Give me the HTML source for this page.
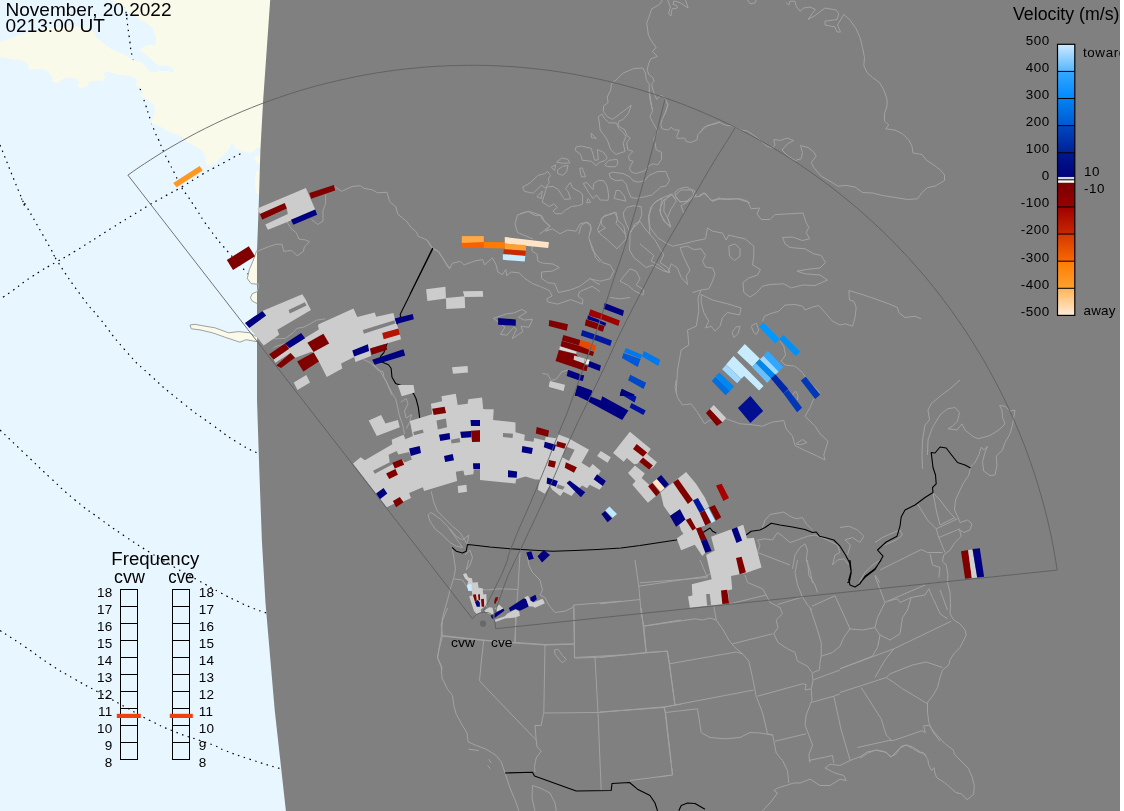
<!DOCTYPE html>
<html><head><meta charset="utf-8"><title>Velocity map</title>
<style>
html,body{margin:0;padding:0;background:#fff;overflow:hidden}
svg{display:block}
text{font-family:"Liberation Sans",sans-serif;fill:#000}
</style></head><body>
<svg width="1124" height="811" viewBox="0 0 1124 811">
<rect x="0" y="0" width="1120" height="811" fill="#e8f6ff"/>
<path d="M124.5,0.0 C125.1,4.6 124.6,1.2 126.2,13.7 C127.8,26.2 127.2,22.9 129.3,37.4 C131.4,51.9 128.9,40.5 132.4,57.3 C135.9,74.1 136.2,73.9 139.9,87.8 C143.6,101.7 141.7,93.3 143.6,99.0 C145.5,104.7 143.3,97.9 145.6,104.9 C147.9,111.9 147.2,110.5 150.5,119.9 C153.8,129.3 152.7,126.5 155.4,133.1 C158.1,139.7 155.9,133.6 158.6,139.8 C161.3,146.0 160.3,144.3 163.6,151.6 C166.9,158.9 164.9,154.3 168.6,161.6 C172.3,168.9 170.4,165.0 174.7,173.6 C179.0,182.2 176.9,179.4 181.5,187.3 C186.1,195.2 183.6,190.1 188.4,197.2 C193.2,204.3 188.8,197.9 195.9,208.5 C203.0,219.1 198.7,214.3 209.6,229.0 C220.5,243.7 216.4,238.2 228.6,252.5 C240.8,266.8 235.0,260.0 246.1,271.8 C257.2,283.6 256.7,282.6 262.0,288.0" fill="none" stroke="#000" stroke-width="1.2" stroke-dasharray="1.5 4.5"/>
<path d="M262.0,143.0 C254.9,146.5 253.3,147.1 240.8,153.5 C228.3,159.9 233.7,157.3 224.6,162.2 C215.5,167.1 220.9,164.1 213.4,168.2 C205.9,172.3 212.6,168.2 202.2,174.4 C191.8,180.6 192.6,180.5 182.2,186.7 C171.8,192.9 178.4,188.8 170.9,192.9 C163.4,197.0 166.7,195.2 159.7,199.1 C152.7,203.0 156.8,200.5 149.8,204.7 C142.8,208.9 146.1,207.0 138.6,211.6 C131.1,216.2 136.5,212.8 127.4,218.4 C118.3,224.0 128.7,217.4 111.2,228.4 C93.7,239.4 92.9,240.3 75.0,251.3 C57.1,262.3 71.7,253.0 57.5,261.3 C43.3,269.6 48.3,265.9 32.5,276.3 C16.7,286.7 20.8,285.0 10.0,292.5 C-0.8,300.0 3.3,296.7 0.0,298.8" fill="none" stroke="#000" stroke-width="1.2" stroke-dasharray="1.5 4.5"/>
<path d="M0.0,145.0 C7.3,163.0 13.7,179.4 22.0,199.0 C30.3,218.6 15.7,187.6 25.0,203.8 C34.3,220.0 39.2,228.3 50.0,247.5 C60.8,266.7 46.7,244.6 57.5,261.3 C68.3,278.0 68.3,278.3 82.5,297.5 C96.7,316.7 85.8,301.3 100.0,318.8 C114.2,336.3 108.3,331.3 125.0,350.0 C141.7,368.7 130.8,357.4 150.0,375.0 C169.2,392.6 161.7,386.1 182.5,402.8 C203.3,419.5 194.2,411.8 212.5,425.0 C230.8,438.2 222.1,432.9 237.5,442.5 C252.9,452.1 248.0,448.3 258.8,453.8 C269.6,459.3 266.3,457.3 270.0,459.0" fill="none" stroke="#000" stroke-width="1.2" stroke-dasharray="1.5 4.5"/>
<path d="M0.0,430.0 C8.3,437.9 8.3,438.0 25.0,453.8 C41.7,469.6 33.3,462.1 50.0,477.5 C66.7,492.9 58.3,486.2 75.0,500.0 C91.7,513.8 83.3,506.7 100.0,518.8 C116.7,530.9 108.3,525.1 125.0,536.3 C141.7,547.5 133.3,542.1 150.0,552.5 C166.7,562.9 159.2,558.3 175.0,567.5 C190.8,576.7 182.5,571.7 197.5,580.0 C212.5,588.3 206.7,585.4 220.0,592.5 C233.3,599.6 226.7,596.1 237.5,601.3 C248.3,606.5 242.9,604.1 252.5,608.0 C262.1,611.9 258.8,610.3 266.3,613.0 C273.8,615.7 272.1,615.0 275.0,616.0" fill="none" stroke="#000" stroke-width="1.2" stroke-dasharray="1.5 4.5"/>
<path d="M0.0,630.5 C8.3,635.9 8.3,635.5 25.0,646.8 C41.7,658.1 33.3,653.5 50.0,664.3 C66.7,675.1 58.3,669.7 75.0,679.3 C91.7,688.9 83.3,683.8 100.0,693.0 C116.7,702.2 108.3,697.6 125.0,706.8 C141.7,716.0 133.3,712.2 150.0,720.5 C166.7,728.8 158.3,725.1 175.0,731.8 C191.7,738.5 186.9,735.9 200.0,740.5 C213.1,745.1 206.0,742.2 214.3,745.5 C222.6,748.8 213.1,745.9 225.0,750.5 C236.9,755.1 231.8,753.3 250.0,759.3 C268.2,765.3 266.4,764.6 279.7,768.5 C293.0,772.4 286.6,770.2 290.0,771.0" fill="none" stroke="#000" stroke-width="1.2" stroke-dasharray="1.5 4.5"/>
<polygon points="0.0,41.7 12.5,37.4 24.9,33.0 37.4,30.5 49.8,28.0 62.3,26.2 74.7,25.5 87.2,28.6 94.6,33.0 95.9,37.4 103.4,43.6 112.5,49.8 124.9,54.8 132.4,59.8 141.1,62.3 147.3,68.5 149.8,72.2 154.8,72.2 159.8,71.0 168.5,71.0 174.7,72.9 172.2,67.2 167.2,65.4 158.5,65.4 154.8,62.3 148.6,57.3 142.3,52.3 139.9,49.8 143.6,46.7 149.8,44.8 155.4,45.5 156.0,37.4 152.3,27.4 147.3,23.7 141.1,19.9 134.9,16.2 128.6,12.5 124.9,7.5 110.8,0.0 290.0,0.0 290.0,200.0 259.5,163.4 255.8,162.2 254.5,157.2 259.5,154.7 260.1,147.9 257.0,147.9 254.5,151.0 249.6,152.9 242.1,151.6 235.9,148.5 231.5,142.3 229.6,148.5 222.2,156.0 215.9,162.2 209.7,165.9 206.0,164.7 205.3,156.0 202.2,151.0 194.8,146.0 187.3,142.3 184.8,138.5 177.3,134.8 167.4,131.1 158.6,125.5 150.5,123.6 152.4,118.6 154.9,112.4 154.3,106.2 148.7,99.9 138.7,95.6 143.7,91.2 136.2,85.6 136.7,79.7 130.8,76.0 118.3,74.7 107.1,71.6 103.4,74.1 105.2,77.2 102.1,81.6 98.4,80.3 89.7,81.6 87.2,85.9 80.9,88.4 77.2,85.9 79.1,82.8 77.8,79.7 71.0,77.2 63.5,78.5 57.3,83.4 52.3,80.9 52.3,77.8 48.6,72.2 41.1,68.5 29.3,69.7 28.0,64.1 22.4,60.4 12.5,59.2 0.0,56.7" fill="#fafaeb"/>
<polygon points="262.0,171.0 256.0,171.5 254.8,181.0 256.0,193.6 262.0,194.0" fill="#fafaeb"/>
<polygon points="262.0,245.0 256.5,251.2 252.9,261.2 249.2,269.9 247.3,278.6 251.1,283.6 257.0,284.2 262.0,284.0" fill="#fafaeb" stroke="#a0a0a0" stroke-width="1"/>
<polygon points="262.0,291.0 257.0,291.7 252.3,293.6 250.4,297.9 252.3,301.1 257.0,303.5 262.0,304.0" fill="#fafaeb" stroke="#a0a0a0" stroke-width="1"/>
<polygon points="262.0,337.0 254.8,335.9 249.8,332.8 238.6,331.6 228.6,332.8 214.9,327.8 200.0,325.3 195.0,324.3 190.0,325.0 191.3,328.8 200.0,329.9 212.5,332.8 224.9,337.2 239.9,342.2 246.1,339.7 256.0,341.5 262.0,342.0" fill="#fafaeb" stroke="#a0a0a0" stroke-width="1"/>
<polygon points="270.2,0.0 263.1,101.0 260.4,150.0 258.8,203.0 257.0,251.0 257.0,351.0 257.0,400.0 258.3,440.0 259.3,470.0 261.9,541.0 265.5,603.0 274.7,710.0 285.9,811.0 1120.0,811.0 1120.0,0.0" fill="#808080"/>
<clipPath id="nightclip"><polygon points="270.2,0.0 263.1,101.0 260.4,150.0 258.8,203.0 257.0,251.0 257.0,351.0 257.0,400.0 258.3,440.0 259.3,470.0 261.9,541.0 265.5,603.0 274.7,710.0 285.9,811.0 1120.0,811.0 1120.0,0.0"/></clipPath>
<g clip-path="url(#nightclip)">
<path d="M334.5,186.5 L341.6,191.3 L352.3,186.5 L360.3,185.6 L363.9,188.3 L372.8,190.0 L377.2,192.7 L387.0,192.3 L389.7,201.6 L395.9,206.9 L397.7,214.1 L406.6,221.2 L411.0,227.4 L416.4,231.9 L418.1,236.3 L427.0,239.9 L432.4,247.9 L438.6,251.4 L443.1,258.5 L447.5,266.5 L450.0,269.2 M325.6,194.5 L325.6,203.4 L323.0,210.5 L323.0,221.2 L317.6,224.4 L311.4,219.4 M286.5,221.2 L290.9,228.3 L296.3,232.7 L298.9,239.0 L305.2,239.9 L309.6,241.6 L304.3,247.0 L303.4,251.4 L297.2,255.9 L291.8,250.5 L283.8,251.4 L282.0,244.3 L275.8,244.3 L267.8,247.0 L257.1,251.4 L255.3,256.8 L250.0,269.2 M250.0,281.7 L258.9,284.3 L257.1,292.3 M426.7,240.0 L432.9,248.9 L438.3,251.6 L443.6,259.6 L449.8,268.5 L452.5,263.1 L460.5,261.4 L464.1,264.9 L474.7,261.0 L482.7,259.6 L484.5,264.9 L492.5,257.8 L496.1,264.9 L497.9,272.0 L502.3,274.7 L505.9,269.4 L506.8,275.6 L511.2,272.0 L519.2,272.9 L524.6,278.3 L532.6,283.6 L540.6,286.6 L549.5,290.7 L552.1,296.0 L546.8,298.7 L547.7,301.9 L557.5,304.1 L570.8,299.6 L582.4,304.1 L582.9,299.6 L577.9,296.0 L579.7,291.6 L592.2,286.3 L600.0,291.6 M532.6,245.3 L531.7,250.7 L537.0,254.2 L537.9,261.4 L542.3,263.1 L553.0,264.0 L559.3,267.6 L552.1,271.1 L541.5,272.0 L541.5,278.3 L547.7,282.7 L554.8,283.6 L558.4,292.5 L570.8,289.8 L579.7,286.3 L590.4,278.3 L595.7,282.7 L600.0,284.5 M589.5,240.0 L593.1,248.9 L595.7,257.8 L600.0,262.2 M493.4,318.3 L506.8,313.8 L513.9,313.0 L521.9,309.4 L526.7,312.1 L518.3,317.4 L524.6,320.1 L532.6,319.2 L529.0,327.2 L521.0,326.3 L522.8,331.6 L512.1,338.8 L516.5,329.0 L513.9,327.2 L506.8,335.2 L500.5,334.3 L505.0,327.2 Z M542.3,373.5 L547.7,374.3 L551.2,380.6 L556.6,378.8 L561.9,371.7 L569.0,369.9 M610.7,90.0 L607.2,97.1 L608.1,102.5 L603.6,106.0 L603.3,111.4 L607.2,116.7 L612.5,119.4 L619.6,114.0 L626.8,108.7 L631.2,105.1 L628.5,113.1 L623.2,119.4 L618.8,121.1 L617.9,125.6 L625.0,130.0 L626.8,135.4 L630.3,138.0 L626.8,142.5 L627.7,149.6 L633.0,151.4 L628.5,155.8 L629.4,160.3 L633.0,161.2 L629.4,168.3 L631.2,171.9 L635.7,173.6 L644.6,171.0 L648.1,166.5 L652.6,163.8 L657.9,164.7 L661.5,159.4 L661.5,152.3 L656.1,149.6 L655.2,143.4 L653.5,139.8 L657.9,130.9 L653.5,123.8 L649.9,116.7 L652.6,110.5 L649.9,98.9 L649.0,90.0 M598.3,116.7 L601.9,114.0 L604.5,118.5 L609.0,122.9 L616.1,122.9 L618.8,128.3 L623.2,132.7 L625.9,136.3 L623.2,143.4 L625.0,151.4 L616.1,154.4 L610.7,149.6 L607.2,139.8 L603.6,134.5 L600.1,130.0 L599.2,122.0 Z M591.2,133.1 L596.2,138.4 L591.5,137.7 Z M576.0,146.9 L581.4,146.0 L591.2,148.4 L593.0,154.1 L594.7,160.3 L598.3,159.8 L597.4,149.6 L603.6,152.3 L607.2,157.6 L605.4,160.3 L598.3,163.0 L596.2,165.6 L591.2,161.2 L582.3,160.3 L580.5,154.1 L575.2,150.5 Z M604.5,164.7 L609.0,160.3 L617.0,159.4 L617.9,163.8 L615.2,166.9 L607.2,166.5 Z M556.5,162.1 L561.8,158.0 L568.0,159.4 L569.8,163.0 L562.7,163.3 Z M551.1,167.4 L555.6,164.7 L554.7,170.4 Z M557.4,170.1 L562.7,166.2 L568.0,165.6 L566.6,171.9 L562.7,175.4 L557.7,173.6 Z M579.6,168.3 L582.3,167.9 L585.5,176.8 L581.4,176.8 Z M522.7,187.0 L530.7,182.5 L537.8,175.4 L544.9,173.6 L547.6,171.5 L550.6,175.4 L548.1,179.0 L549.4,182.5 L544.9,187.9 L541.4,185.2 L533.3,193.2 L524.4,191.4 Z M536.9,196.8 L542.2,191.1 L541.4,198.5 Z M542.2,202.1 L546.7,187.0 L552.9,186.4 L558.3,189.6 L562.7,196.8 L564.5,199.4 L570.7,198.9 L568.0,191.4 L565.4,188.8 L570.4,182.5 L572.5,187.9 L580.5,192.3 L582.6,195.0 L582.6,203.9 L578.7,205.7 L571.6,206.5 L565.4,210.1 L561.8,213.7 L555.6,213.7 L552.9,211.0 L557.4,207.4 L553.8,203.9 L549.4,206.5 Z M583.2,183.4 L586.7,182.5 L593.0,189.6 L593.8,183.4 L598.3,180.4 L603.6,180.7 L607.2,186.1 L608.6,195.0 L608.1,200.3 L600.1,200.0 L596.5,195.0 L593.0,198.5 L588.5,192.3 Z M609.0,173.6 L612.5,172.2 L623.2,173.6 L630.3,177.2 L633.0,180.7 L638.3,182.2 L644.6,180.7 L649.0,175.4 L657.9,171.5 L665.9,171.5 L669.5,180.7 L665.9,186.1 L660.6,187.0 L657.0,190.5 L651.7,195.0 L644.6,196.8 L637.4,198.2 L631.2,197.7 L627.7,189.6 L626.4,184.3 L622.3,179.9 L616.1,180.7 L610.7,178.1 Z M614.3,198.5 L616.1,190.5 L619.6,190.5 L624.1,195.9 L625.9,201.2 Z M586.7,203.0 L588.0,198.5 L590.8,202.1 Z M665.9,100.7 L667.7,105.1 L665.0,113.1 L662.3,119.4 L660.6,124.7 L662.3,128.8 L667.7,130.0 L671.2,127.4 L674.8,130.0 L679.3,130.0 L676.6,136.3 L677.5,138.4 L684.6,138.0 L686.4,141.6 L690.8,142.5 L697.0,139.8 L697.9,134.5 L703.3,129.1 L706.8,125.6 L715.7,123.8 L720.0,122.0 M674.8,192.3 L679.3,188.8 L686.4,187.0 L691.7,189.6 L694.0,195.0 L690.8,197.7 L686.4,201.2 L680.1,201.7 L675.7,197.7 Z M649.9,234.0 L648.5,218.1 L650.8,207.4 L656.1,201.2 L662.3,198.5 L660.6,205.7 L660.6,214.6 L665.9,222.6 L670.9,227.0 L667.7,218.1 L663.8,211.0 L664.5,201.2 L668.6,195.9 L671.2,194.1 L674.8,198.5 M683.7,212.8 L681.0,205.7 L687.3,202.1 L693.5,196.8 L699.7,196.4 L704.2,193.2 L708.6,197.7 L712.2,201.2 L720.0,197.7 M623.2,212.8 L626.8,207.4 L633.9,205.7 L641.0,206.5 L641.9,214.6 L638.3,223.5 L633.9,227.0 L630.3,232.3 L626.8,225.2 L624.1,218.1 Z M598.3,232.3 L605.4,227.9 L601.9,225.2 L601.0,219.9 L604.5,215.4 L610.7,214.6 L614.3,211.9 L617.5,218.1 L616.1,223.5 L619.6,227.0 L625.0,234.0 M520.0,213.7 L528.0,211.4 L535.1,215.4 L541.4,215.4 L544.9,221.7 L550.2,226.1 L539.6,234.0 M578.7,234.0 L581.4,225.2 L585.8,222.6 L590.3,224.3 L591.2,229.7 L589.4,234.0 M610.7,89.9 L611.6,83.6 L617.0,79.2 L623.2,73.0 L633.9,68.5 L642.8,68.0 L645.4,73.0 L646.3,80.1 L649.0,83.6 L649.9,95.2 L651.7,106.8 L652.6,110.3 M662.3,0.0 L659.7,4.4 L651.7,8.9 L649.0,16.9 L646.7,23.1 L648.5,35.6 L652.6,42.7 L656.1,47.2 L652.6,51.6 L657.4,56.6 L650.8,58.7 L648.5,64.1 L647.2,70.3 L649.0,74.7 L652.6,77.4 L654.3,81.0 L651.7,83.6 L652.6,89.0 L655.2,96.1 L656.7,99.3 L660.6,95.2 L665.0,97.9 L668.0,105.0 L665.0,113.9 M667.7,0.0 L670.4,7.1 L668.6,13.3 L670.9,16.0 L672.1,8.9 L677.5,8.0 L676.6,5.3 L673.0,4.4 L673.9,0.9 L680.1,2.7 L688.1,8.0 L685.5,0.0 M747.5,0.0 L750.0,3.8 L755.0,3.0 L756.2,0.0 M786.2,2.5 L788.8,5.0 L790.0,1.2 L795.0,1.2 L796.2,6.2 L800.0,11.2 L803.8,8.0 L810.0,7.0 L815.5,9.5 L812.0,13.8 L808.0,19.5 L815.0,15.5 L825.0,8.0 L836.2,10.0 L838.8,13.8 L837.0,19.5 L825.0,21.2 L825.0,25.0 L835.0,27.0 L837.0,32.0 L840.5,32.0 L837.5,25.0 L843.8,14.5 L850.0,20.0 L856.2,28.8 L860.0,37.5 L862.5,47.5 L864.5,57.5 L863.8,65.5 L867.0,72.5 L872.5,77.5 L879.5,82.5 L883.8,90.0 L887.0,98.8 L887.0,106.2 L884.5,113.8 L884.5,121.2 L888.8,125.0 L885.5,128.8 L895.0,130.0 L902.5,133.8 L908.8,140.0 L912.0,146.2 L913.0,153.0 L922.0,154.5 L926.2,160.0 L933.8,165.0 L940.5,170.0 L944.5,175.0 L944.5,180.5 L935.0,186.2 L927.5,187.5 L922.0,192.5 L917.5,198.8 L907.5,199.5 L895.0,197.5 L882.5,195.5 L872.5,193.0 L862.5,192.5 L855.0,187.0 L846.2,185.5 L838.0,186.2 L830.0,181.2 L821.2,176.2 L813.8,167.5 L811.2,162.5 L816.2,156.2 L813.8,152.0 L808.0,147.5 L800.5,145.5 L802.5,152.5 L801.2,158.8 L795.0,160.5 L787.5,155.5 L782.0,150.0 L787.5,143.8 L793.8,140.5 L787.0,138.0 L780.5,140.5 L773.8,139.5 L775.0,145.0 L772.5,148.0 L767.0,146.2 L756.2,137.0 L747.5,131.2 L741.2,130.0 L732.5,126.2 L725.0,125.0 L718.8,122.0 L710.0,125.0 L703.8,127.5 L700.0,132.5 M700.0,195.0 L705.0,193.0 L711.2,200.5 L718.8,198.8 L727.5,199.5 L737.5,198.8 L750.0,202.8 M698.8,196.2 L703.8,193.0 L712.5,201.2 L720.0,198.8 L740.0,198.8 L747.5,201.2 L751.2,208.8 L759.5,208.0 L757.0,213.8 L761.2,219.5 L770.0,219.5 L775.0,214.5 L790.0,213.8 L803.0,213.0 L806.2,222.5 L808.8,227.5 L806.2,232.5 L809.5,238.8 L802.5,240.5 L792.5,237.0 L782.5,237.5 L785.0,243.8 L790.0,247.5 L805.0,248.8 L813.8,253.8 L821.2,255.5 L825.5,262.5 L820.0,268.0 L806.2,269.5 L797.0,271.2 L805.0,273.8 L820.0,275.0 L827.5,280.0 L815.0,285.5 L802.5,285.0 L791.2,288.0 L783.8,283.8 L770.0,284.5 L762.5,286.2 L756.2,293.0 L750.0,297.0 L743.8,292.5 L743.0,282.5 L748.8,278.0 L757.5,275.0 L760.5,269.5 L752.5,265.0 L753.8,256.2 L753.8,246.2 L745.0,238.8 L736.2,237.0 L728.8,235.0 L726.2,240.0 L722.5,233.0 L712.5,231.2 L707.5,228.0 L705.5,238.8 L693.8,241.2 L683.8,243.8 L672.5,246.2 L665.0,242.5 L657.5,237.5 L650.0,227.5 L648.8,215.0 L652.5,205.0 L660.0,198.8 L672.5,193.8 M728.8,246.2 L735.0,243.8 L740.0,248.8 L740.0,256.2 L734.5,260.5 L729.5,256.2 Z M701.2,290.0 L708.8,288.8 L712.5,281.2 L715.0,273.8 L712.5,268.0 L705.5,267.0 L702.5,261.2 L705.5,255.5 L701.2,248.8 L693.8,249.5 L687.5,246.2 L680.0,247.5 L683.8,257.5 L690.0,270.0 L686.2,276.2 L687.5,284.5 L681.2,277.5 L677.5,268.0 L671.2,263.8 L668.0,272.5 L658.8,265.0 L651.2,261.2 L653.8,255.5 L640.0,243.8 M692.5,292.5 L701.2,290.0 L698.0,297.5 L698.8,311.2 L696.2,326.2 L687.5,330.0 L688.8,345.0 L681.2,350.0 L677.5,370.0 L676.2,392.8 M701.2,294.5 L712.5,300.0 L727.5,303.8 L741.2,308.0 L739.5,315.0 L727.5,312.5 L722.5,317.5 L720.0,326.2 L715.0,331.2 L711.2,326.2 L705.5,328.0 L708.8,321.2 L703.8,312.5 L701.2,302.5 Z M732.0,332.0 L736.2,327.0 L740.0,326.2 L738.0,333.8 L733.8,337.5 Z M751.2,326.2 L756.2,323.0 L758.8,330.0 L756.2,334.5 L753.8,332.5 Z M762.5,321.2 L764.5,316.2 L770.0,313.8 L778.8,311.2 L785.0,305.0 L795.0,304.5 L802.5,306.2 L805.0,310.0 L812.5,307.0 L818.8,305.5 L825.0,312.5 L832.5,321.2 L840.0,325.0 L845.0,323.8 L852.5,326.2 L855.0,317.5 L856.2,307.5 L853.8,301.2 L849.5,300.0 L848.8,290.5 L860.0,293.8 L875.0,298.8 L888.8,303.8 L897.5,307.5 L898.8,312.5 L905.0,317.5 L915.0,316.2 L921.0,318.8 M780.0,341.2 L783.8,346.2 L785.5,355.0 L781.2,361.2 L785.0,365.0 L795.0,366.2 L802.5,372.5 L807.5,380.0 L820.0,392.8 M663.8,200.0 L672.5,194.5 L676.2,201.2 L671.2,208.8 L667.5,217.5 L670.5,227.0 L663.8,221.2 L659.5,210.0 Z M675.0,195.0 L681.2,190.0 L693.8,190.0 L696.2,195.0 L688.8,201.2 L680.0,202.0 Z M676.2,380.0 L675.0,387.5 L677.5,397.5 L682.5,405.0 L691.2,403.8 L697.5,412.5 L704.5,423.8 L710.0,420.0 L726.2,418.8 L740.0,423.8 L750.0,424.5 L762.5,426.2 L772.5,422.0 L783.8,420.5 L786.2,428.8 L792.5,436.2 L795.0,445.5 L803.8,450.0 L815.0,455.0 L825.0,460.0 L823.8,455.0 L828.0,441.2 L820.0,433.8 L815.0,426.2 L805.0,416.2 L810.0,407.5 L813.8,398.8 M796.2,443.8 L802.5,439.5 L807.0,442.5 L800.0,445.0 Z M792.5,395.0 L795.5,391.2 L798.0,395.0 L797.5,400.0 M762.5,527.5 L765.0,520.0 L770.0,514.5 L783.8,512.0 L790.0,516.2 L796.2,518.8 L802.5,517.5 L806.2,523.8 L812.5,530.0 M757.5,552.5 L760.0,545.0 L757.5,540.0 L765.0,538.8 L772.5,540.0 L777.5,532.5 L782.5,536.2 L790.0,542.5 L797.5,540.0 L807.5,536.2 L815.0,535.0 L825.0,538.8 L837.5,545.0 L840.0,552.5 L835.0,555.0 L832.5,565.0 L837.5,560.0 L843.8,558.8 L848.8,565.0 M792.5,568.8 L795.0,555.0 L800.0,547.5 L805.0,543.8 L807.5,550.0 L806.2,560.0 L810.0,570.0 L812.5,582.8 M757.5,552.5 L790.0,565.0 M640.0,582.8 L707.5,577.5 L700.0,560.0 M960.0,380.0 L950.0,388.8 L940.0,396.2 L931.2,403.8 L928.0,410.0 L929.5,420.0 L925.0,425.0 L922.5,440.0 L922.0,455.0 L922.5,468.8 M927.5,455.0 L928.0,440.0 L932.5,427.5 L940.0,415.0 L947.5,408.8 L955.0,407.5 L959.5,412.5 L957.5,421.2 L952.5,426.2 L948.0,428.8 L957.0,430.0 L962.0,423.8 L965.0,430.0 L972.5,436.2 L978.0,438.8 L990.0,435.5 L998.8,430.0 L1005.0,423.8 L1002.5,417.5 L1002.0,410.0 L999.5,405.5 L1005.0,406.2 L1010.0,411.2 L1015.0,410.0 L1012.5,425.0 L1010.0,433.8 L1005.0,442.5 L1002.5,450.0 L996.2,456.2 L997.0,465.0 L995.0,475.0 L990.0,475.5 L983.8,471.2 L982.5,462.5 L984.5,453.8 L987.5,446.2 L983.8,450.0 L981.2,447.0 L978.8,455.0 L975.0,462.5 L970.0,467.5 M970.5,468.0 L968.8,475.0 L963.8,482.5 L960.0,490.0 L955.5,500.0 L954.5,510.0 L957.5,516.2 L960.0,522.5 L967.5,520.0 L972.0,523.8 L970.0,530.0 L963.8,532.5 L959.5,530.0 L961.2,536.2 L955.0,542.5 L950.0,550.0 L943.8,555.0 L942.5,561.2 L946.2,565.0 L948.0,575.0 L947.5,582.8 M933.0,492.5 L940.0,500.0 L947.5,510.0 L955.5,518.8 M933.0,492.5 L936.2,510.0 L940.0,525.0 L955.0,517.5 M917.5,503.8 L927.5,520.0 L936.2,528.8 L957.5,518.8 M936.2,528.8 L938.8,537.5 L960.0,528.8 M938.8,537.5 L945.0,552.5 M880.0,570.0 L921.2,549.5 L927.5,552.5 L942.5,552.5 M930.0,553.8 L932.5,565.0 L940.0,567.5 L938.8,577.5 M875.0,575.0 L880.0,582.8 M875.0,542.5 L882.5,537.5 L893.8,532.5 L900.0,530.0 L902.5,535.0 L896.2,540.0 L887.5,543.8 L880.0,547.0 M858.8,582.8 L865.0,572.5 L872.5,565.0 L881.2,559.5 M840.0,527.5 L848.8,526.2 L857.5,530.0 L863.8,536.2 L860.0,542.5 L852.5,537.5 L845.0,540.0 L850.5,545.0 L847.5,555.0 M947.5,582.5 L950.0,592.5 L950.5,605.0 L950.0,613.8 L953.8,620.0 L960.0,623.8 L965.0,630.0 L966.2,635.0 L962.5,642.5 L960.0,647.5 L953.8,653.8 L950.0,660.0 L948.8,665.0 L942.5,670.0 L940.0,677.5 L937.5,687.5 L932.5,696.2 L927.5,702.5 L927.5,712.5 L928.8,722.5 L932.5,731.2 L940.0,741.2 M928.8,588.8 L932.5,597.5 L936.2,605.0 L940.0,613.8 L947.5,618.8 M940.0,590.0 L943.8,600.0 L947.5,610.0 M840.0,668.8 L893.8,648.8 L951.2,621.2 M840.0,692.5 L886.2,677.5 L890.0,673.8 L912.5,665.0 L926.2,662.0 L942.5,667.5 M886.2,677.5 L893.8,682.5 L902.5,688.8 L915.0,696.2 L927.5,703.8 M861.2,687.5 L881.2,718.8 L886.2,735.0 L891.2,740.0 M857.5,747.5 L891.2,740.0 M848.8,628.8 L862.5,630.0 L875.0,627.5 L877.5,617.5 L885.0,602.5 L875.0,576.2 M875.0,627.5 L880.0,635.0 L890.0,640.0 L900.0,633.8 L902.5,617.5 L907.5,610.0 L911.2,597.5 L900.0,602.5 L897.5,598.8 L887.5,601.2 L885.0,602.5 M911.2,597.5 L925.0,595.0 L928.8,588.8 M887.5,601.2 L925.0,585.0 M893.8,648.8 L885.0,660.0 L875.0,677.5 M880.0,635.0 L877.5,647.5 L872.5,656.2 L840.0,668.8 M635.0,560.0 L638.8,586.2 L641.2,613.8 L643.8,626.2 L646.2,652.5 M638.8,586.2 L706.2,576.2 L710.0,573.8 M600.0,603.8 L640.0,599.5 M643.8,626.2 L695.0,618.8 L702.5,620.0 L710.0,618.0 L716.2,620.0 M600.0,657.5 L646.2,652.5 L667.0,651.2 L669.5,663.8 L675.0,705.0 M669.5,663.8 L736.2,652.0 L742.5,653.8 M600.0,712.0 L663.8,707.5 L675.0,705.0 L753.8,690.0 M663.8,707.5 L665.5,712.5 L697.5,708.8 L701.2,732.5 L710.0,737.5 L725.0,738.8 L740.0,737.5 L750.0,732.5 L760.0,733.0 L772.5,735.0 M665.5,712.5 L671.2,762.8 M713.8,606.2 L716.2,620.0 L722.5,628.8 L728.8,640.0 L735.0,647.5 L742.5,653.8 L748.8,661.2 L752.5,677.5 L756.2,696.2 L762.5,712.5 L767.5,733.8 L772.5,735.0 M732.5,643.8 L772.5,633.8 M757.5,696.2 L802.5,683.8 L806.2,684.5 L805.0,690.0 L811.2,688.8 M775.0,741.2 L806.2,733.8 M745.0,575.0 L747.5,582.5 L762.5,588.8 L766.2,595.0 L770.0,602.5 L780.0,607.5 L782.5,613.8 L776.2,620.0 L778.0,627.5 L773.8,633.8 L778.0,642.5 L787.5,648.8 L795.0,652.5 L797.5,661.2 L807.5,666.2 L812.0,672.5 L813.0,680.0 L811.2,688.8 L812.0,700.0 L806.2,715.0 L805.0,725.0 L808.8,735.0 L812.5,745.0 L808.8,755.0 L810.0,762.8 M730.0,603.8 L766.2,595.0 M777.5,604.5 L802.5,597.0 L807.5,605.0 L812.0,610.0 M802.5,597.0 L797.5,585.0 L795.0,572.5 L797.5,560.0 M807.5,560.0 L808.8,575.0 L815.0,585.0 L817.5,592.5 M810.0,607.5 L817.5,630.0 L821.2,642.5 L821.2,656.2 L820.0,662.5 L819.5,670.0 L813.0,672.5 M812.0,606.2 L835.0,595.8 L850.0,628.8 M821.2,656.2 L832.5,652.5 L840.0,646.2 L843.8,637.5 L850.0,628.8 M813.0,680.0 L826.2,675.0 L840.0,670.0 M811.2,702.5 L833.8,696.2 L840.0,693.8 M833.8,696.2 L841.2,730.0 L850.0,760.0 M447.5,608.0 L442.5,620.5 L441.2,635.5 L438.8,650.5 L437.5,658.0 L441.2,666.8 L442.0,678.0 L447.5,689.2 L452.5,695.5 L453.8,705.5 L456.2,714.2 L462.5,725.5 L467.0,733.0 L468.0,741.8 L475.0,745.0 L486.2,749.2 L496.2,755.5 L501.2,761.8 L505.0,773.0 L510.0,788.0 L516.2,803.0 L518.8,810.8 M535.0,810.8 L532.0,798.0 L532.5,785.5 L540.0,788.0 L550.0,793.0 L555.0,803.0 L556.2,810.8 M441.2,635.5 L483.8,640.0 L515.0,643.0 L545.0,645.0 L573.8,644.2 M483.8,640.0 L481.2,663.0 L479.5,680.5 L482.5,684.2 L536.2,740.0 L537.0,746.8 L541.2,751.0 L536.2,758.0 L534.5,766.8 L535.0,772.2 M545.0,645.0 L543.8,713.0 L542.5,718.0 L541.2,725.5 L535.0,725.5 L536.2,740.0 M515.0,643.0 L515.5,626.8 L516.2,618.0 M573.8,608.0 L574.5,644.2 L574.5,658.0 L595.0,657.5 L667.5,651.0 M595.0,657.5 L598.0,712.5 L601.2,790.5 M543.8,713.0 L598.0,712.5 L664.5,706.8 L681.0,704.2 M667.5,651.0 L675.0,705.5 M641.2,608.0 L646.2,653.0 M643.8,626.0 L681.0,620.0 M664.5,706.8 L672.5,775.0 L630.0,780.5 M554.5,650.0 L558.0,649.2 L562.5,655.5 L566.2,659.2 L562.5,663.0 L558.0,658.0 L555.0,654.2 Z M468.8,749.2 L478.8,750.5 M488.8,759.2 L491.2,763.0 M487.5,765.5 L490.5,768.5 M762.5,810.8 L770.0,803.0 L777.5,793.0 L773.8,790.5 L777.5,788.0 L793.8,783.0 L800.0,783.0 L810.0,779.2 L820.0,785.5 L830.0,785.5 L840.0,779.2 L846.2,780.5 L843.8,775.5 L835.0,773.0 L825.0,768.0 L830.0,764.2 L840.0,765.5 L850.0,760.5 L860.0,756.8 L867.5,751.8 L877.5,750.0 L885.0,751.8 L891.2,756.8 L900.0,748.0 L906.2,745.0 L912.5,746.8 L920.0,751.8 L926.2,755.5 M772.5,734.2 L776.2,753.0 L782.5,760.5 L787.5,770.5 L788.8,783.0 M808.8,760.5 L832.5,755.5 L833.8,763.0 M671.8,768.0 L672.5,775.0 L660.0,776.8 M431.2,491.2 L433.8,502.5 L437.5,511.2 L445.0,518.8 L452.5,526.2 L460.0,532.5 L466.2,542.5 L467.5,544.5 M428.0,515.0 L431.2,512.5 L440.0,518.8 L447.5,526.2 L453.8,535.0 L460.0,543.8 L462.5,547.5 L456.2,546.2 L450.0,542.5 L442.5,535.0 L435.0,528.8 L430.0,521.2 Z M450.0,528.8 L456.2,536.2 L462.5,540.0 L468.8,535.0 L467.5,542.5 M452.0,547.5 L453.8,557.5 L455.5,568.8 L453.8,577.5 L450.0,590.0 L447.5,600.0 L443.8,612.5 L441.2,625.0 L442.5,636.2 L438.8,650.0 L437.5,657.5 L442.0,667.5 L441.2,672.8 M465.0,555.0 L470.0,550.0 L472.5,557.5 L470.0,565.0 L466.2,570.0 L468.8,560.0 M453.8,578.8 L462.5,580.0 L467.5,587.5 L486.2,590.0 L500.0,588.8 L518.0,589.5 M520.0,552.5 L518.0,589.5 L516.2,610.0 L515.0,642.5 M527.5,556.2 L528.8,565.0 L532.5,572.5 L540.0,580.0 L542.5,590.0 L540.0,595.0 L545.0,597.5 L548.8,605.0 L555.0,612.5 L565.0,611.2 L572.5,607.5 L573.8,605.0 M573.8,605.0 L621.0,601.2 M573.8,605.0 L574.5,657.5 L621.0,655.0 M442.5,636.2 L483.8,640.5 L515.0,642.5 L545.0,644.5 L575.0,643.8 M255.0,338.9 L272.8,338.9 L285.2,338.4 L293.3,332.7 L296.8,328.3 L303.0,327.4 L310.2,323.8 L316.4,320.2 L325.3,318.8 M272.8,348.7 L274.6,346.9 L285.2,343.4 M363.5,359.4 L370.7,363.0 L377.8,370.1 L383.1,371.9 L384.0,377.2 L388.5,386.1 L392.0,393.2 L395.6,398.5 L397.3,405.7 L399.1,414.6 L402.7,425.2 L404.5,434.0 M372.4,363.8 L379.6,370.1 L386.7,382.5 L392.0,395.0 M400.9,402.1 L406.2,398.5 L408.0,403.9 L404.5,411.0 L406.2,418.1 L411.6,414.6 L409.8,421.7 L406.2,428.8 M532.5,238.8 L517.5,232.5 L515.0,223.8 L517.5,215.0 L528.8,211.2 L540.0,215.0 L543.8,221.2 L550.0,226.2 L545.5,231.2 L552.5,228.8 L560.0,233.8 L567.5,230.0 L576.2,231.2 L580.0,223.8 L587.5,222.0 L591.2,227.5 L588.8,237.5 L592.5,250.0 L602.5,262.5 L610.0,265.0 L613.8,271.2 L610.0,278.8 L600.0,281.2 L590.0,278.8 M597.5,230.0 L602.5,217.5 L610.0,213.8 L616.2,212.5 L617.5,220.0 L623.8,226.2 L626.2,238.8 L617.0,248.8 L607.5,240.0 L600.0,233.8 Z M630.0,233.8 L635.0,223.8 L640.0,221.2 L645.0,228.8 L655.0,240.0 L660.0,248.8 L663.8,255.0 L660.0,262.5 L667.5,267.5 L670.0,272.5 L663.8,271.2 L652.5,265.0 L646.2,267.5 L640.0,262.5 L633.8,257.5 L629.5,250.0 L630.0,240.0 Z M623.8,276.2 L630.0,268.8 L636.2,271.2 L640.0,278.8 L636.2,285.0 L643.8,290.0 L643.0,295.0 L635.0,291.2 L627.5,285.0 L620.0,281.2 Z M610.0,297.5 L620.0,298.8 L630.0,297.5 M944.7,743.4 L953.4,750.2 L954.6,754.6 L968.3,768.3 L972.1,777.0 L974.3,785.7 L973.6,794.4 L967.1,799.7 L961.5,793.8 L955.9,792.6 L944.7,782.6 L936.6,777.6 L934.7,772.0 L934.1,767.7 L931.6,770.5 L928.5,764.5 L927.9,759.6 L923.5,752.7 L919.8,752.7 L912.3,748.4 L906.1,744.9 L901.1,746.5 L896.1,754.0 L890.5,757.1 L886.8,752.7 L882.4,751.5 L874.9,750.2 L867.5,753.3 L860.0,758.3 M889.3,740.3 L893.0,740.6 L922.3,730.7 L925.4,732.8 L923.5,725.9 L929.1,725.3 L934.7,732.8 L944.7,743.4" fill="none" stroke="#a2a2a2" stroke-width="1" stroke-linejoin="round"/>
<path d="M432.7,247.9 L410.1,294.0 M432.9,248.5 L400.0,314.7 M640.0,545.5 L676.2,540.0 L703.8,532.0 L710.0,528.0 L712.5,531.2 L716.2,533.0 M746.2,535.0 L751.2,531.2 L760.0,530.0 L765.0,527.5 L771.2,523.2 L780.0,525.0 L792.5,527.0 L805.0,529.5 L812.5,532.5 L816.2,532.0 L819.5,536.2 L825.0,537.5 L833.8,540.0 L840.0,546.2 L845.5,555.0 L849.5,562.5 L851.2,572.5 L849.5,581.2 L847.5,582.8 M860.0,582.8 L866.2,576.2 L875.0,569.5 L883.0,556.2 L877.5,550.0 L886.2,542.0 L897.0,536.2 L900.0,526.2 L901.2,517.0 L905.0,510.0 L915.0,505.0 L925.0,497.5 L933.0,492.5 L932.5,487.5 L936.2,483.8 L935.5,475.0 L933.0,467.5 L931.2,452.5 L935.0,453.0 L940.0,447.0 L946.2,448.0 L951.2,454.5 L957.5,462.5 L965.0,465.0 L970.5,468.0 M850.0,560.0 L851.2,571.2 L848.8,580.0 L850.0,585.0 L855.0,587.0 L860.0,583.8 L865.0,576.2 L875.0,568.8 L881.2,560.0 M505.0,773.0 L532.5,772.2 L534.5,776.0 L576.2,791.0 L611.2,790.5 L612.0,783.5 L629.5,782.5 L637.5,789.2 L650.0,795.5 L655.0,803.0 L657.5,810.8 M678.8,810.8 L681.2,805.5 L687.5,803.0 L695.0,803.5 L705.0,809.2 M452.0,547.5 L456.2,551.2 L462.5,553.0 L466.2,551.2 L467.5,544.5 L472.5,545.0 L490.0,547.0 L510.0,548.8 L530.0,550.0 L552.5,551.2 L575.0,550.5 L597.5,549.5 L621.0,548.0 M400.9,315.8 L390.2,338.0 L386.7,344.3 L384.0,352.3 L380.4,356.7 L381.7,362.1 L388.5,364.7 L391.1,368.3 L392.0,377.2 L395.6,383.4 L402.7,386.1 L413.4,393.2 L416.0,398.5 L418.3,407.4 L419.6,417.2 L421.4,428.8 L424.0,432.3 M621.0,548.0 L640.0,545.5 M400.0,314.7 L400.9,315.8" fill="none" stroke="#000" stroke-width="1.1" stroke-linejoin="round"/>
</g>
<g>
<polygon points="257.3,208.5 305.9,188.0 315.2,209.5 292.2,220.0 267.9,229.7" fill="#cccccc"/>
<polygon points="262.3,219.7 286.9,208.5 287.8,214.1 264.8,224.7" fill="#808080"/>
<polygon points="309.3,193.0 333.9,184.9 335.1,190.5 311.2,198.8" fill="#800000"/>
<polygon points="290.9,219.7 315.2,209.5 317.1,214.8 293.4,224.7" fill="#000080"/>
<polygon points="259.8,214.1 284.7,202.9 286.9,208.5 262.3,219.7" fill="#800000"/>
<polygon points="173.2,182.9 199.6,166.1 202.7,170.5 176.6,187.3" fill="#ff9820"/>
<polygon points="226.8,260.0 248.8,246.2 255.0,256.2 233.0,270.0" fill="#800000"/>
<polygon points="245.0,323.0 262.4,310.9 302.3,294.3 306.0,299.9 307.9,304.3 311.0,309.9 277.4,329.8 279.2,334.8 263.7,345.4 249.3,327.9" fill="#cccccc"/>
<polygon points="288.6,309.9 304.8,302.2 306.6,305.5 289.8,313.4" fill="#808080"/>
<polygon points="245.0,323.0 262.4,310.9 266.2,315.5 249.3,327.9" fill="#000080"/>
<polygon points="318.0,325.8 318.7,324.2 353.5,308.4 357.3,317.1 374.7,312.4 376.2,316.8 393.4,313.0 395.3,319.9 398.4,328.6 401.1,339.2 385.9,343.8 370.0,348.5 371.0,356.0 355.4,362.0 354.2,356.9 341.1,363.5 342.3,368.5 326.8,376.9 318.9,361.4 313.6,352.5 310.9,352.0 295.4,357.8 290.5,352.9 275.3,362.7 273.6,359.6 289.6,348.0 305.3,337.8 318.9,329.4" fill="#cccccc"/>
<polygon points="307.4,342.7 323.4,333.8 329.2,343.6 313.6,352.0" fill="#800000"/>
<polygon points="297.1,361.4 313.6,352.5 318.9,361.4 303.4,371.6" fill="#800000"/>
<polygon points="285.0,343.4 301.1,332.9 305.1,338.3 289.6,348.0" fill="#000080"/>
<polygon points="269.1,354.3 285.0,343.4 289.1,348.8 273.6,359.6" fill="#800000"/>
<polygon points="276.2,365.4 290.5,352.9 294.9,357.8 281.1,368.1" fill="#800000"/>
<polygon points="293.8,382.5 306.3,375.0 310.0,382.5 297.5,390.0" fill="#cccccc"/>
<polygon points="362.9,329.9 394.4,320.3 395.4,323.6 363.8,333.8" fill="#808080"/>
<polygon points="394.6,318.4 412.7,313.9 413.9,319.3 396.5,323.9" fill="#000080"/>
<polygon points="382.2,333.0 398.4,328.4 400.0,334.6 383.7,339.2" fill="#b41400"/>
<polygon points="352.3,350.6 367.9,344.2 369.1,351.0 354.2,356.6" fill="#000080"/>
<polygon points="370.0,348.5 385.9,343.8 387.2,349.8 371.6,354.8" fill="#800000"/>
<polygon points="372.2,359.7 403.4,349.2 405.2,355.4 374.7,364.7" fill="#000080"/>
<polygon points="426.1,289.3 445.4,286.8 446.0,298.6 427.4,301.1" fill="#cccccc"/>
<polygon points="446.0,298.0 464.7,296.2 465.1,308.0 446.3,308.9" fill="#cccccc"/>
<polygon points="462.9,291.2 482.8,290.9 483.2,296.8 464.5,297.1" fill="#cccccc"/>
<polygon points="498.1,317.9 515.8,319.6 515.8,325.8 498.1,324.8" fill="#000080"/>
<polygon points="461.8,236.1 483.8,236.1 483.8,243.0 461.8,243.0" fill="#ffa848"/>
<polygon points="461.8,243.0 483.8,242.1 483.8,247.9 461.8,247.9" fill="#f86000"/>
<polygon points="483.8,242.1 504.8,242.3 504.8,248.6 483.8,247.9" fill="#ff7c00"/>
<polygon points="504.8,237.0 549.0,242.3 548.1,247.9 504.8,243.6" fill="#ffe4c8"/>
<polygon points="504.8,243.8 525.9,245.1 525.9,251.1 504.8,249.2" fill="#ffa030"/>
<polygon points="503.8,249.2 525.7,250.8 525.3,255.8 503.3,253.8" fill="#cc2800"/>
<polygon points="502.9,254.2 525.3,256.0 524.7,261.6 502.9,259.8" fill="#c8ecff"/>
<polygon points="397.9,385.0 413.5,385.0 414.7,392.5 401.7,396.2" fill="#cccccc"/>
<polygon points="368.7,420.5 381.1,414.9 385.5,423.6 397.9,419.9 399.8,427.3 376.8,436.1" fill="#cccccc"/>
<polygon points="353.1,463.5 360.6,457.2 364.9,460.3 392.3,444.2 391.7,439.8 403.5,434.8 405.4,439.2 412.9,436.1 409.8,421.1 432.2,414.3 430.9,403.7 442.1,401.2 441.5,396.2 455.8,393.7 457.7,404.9 467.7,403.7 468.3,399.3 482.0,397.5 483.2,409.3 485.0,409.3 485.0,465.9 355.6,465.9" fill="#cccccc"/>
<polygon points="353.1,463.7 386.7,507.2 393.6,504.1 403.5,501.6 411.0,497.9 409.1,492.9 422.8,487.3 424.1,491.1 457.1,481.1 455.8,471.8 463.3,470.5 464.6,475.5 473.3,474.2 473.9,469.3 481.4,469.3 481.4,479.9 485.0,479.9 485.0,464.9 364.9,464.9" fill="#cccccc"/>
<polygon points="457.7,486.1 466.4,484.8 467.0,491.7 458.3,492.9" fill="#cccccc"/>
<polygon points="376.1,493.5 383.6,487.9 387.3,493.5 379.9,499.2" fill="#000080"/>
<polygon points="392.9,501.0 399.8,497.0 403.5,502.3 396.1,507.2" fill="#800000"/>
<polygon points="413.2,432.1 422.8,429.5 423.7,432.7 414.1,435.2" fill="#808080"/>
<polygon points="436.5,420.5 445.9,418.4 447.1,427.3 437.8,429.6" fill="#808080"/>
<polygon points="450.9,439.8 459.6,437.9 460.2,442.3 451.5,443.5" fill="#808080"/>
<polygon points="388.6,454.7 396.7,451.0 398.3,454.5 409.1,451.9 411.9,459.5 404.5,462.5 401.7,459.1 391.7,464.7 374.9,473.7 373.0,470.7 389.8,462.2" fill="#808080"/>
<polygon points="432.2,408.7 444.6,406.8 446.1,413.0 433.7,414.9" fill="#800000"/>
<polygon points="470.5,420.1 482.0,420.1 482.0,426.1 471.0,426.1" fill="#000080"/>
<polygon points="439.0,434.8 449.6,432.9 450.2,439.2 440.3,441.0" fill="#000080"/>
<polygon points="460.2,431.7 471.0,431.1 471.4,437.3 461.4,437.9" fill="#000080"/>
<polygon points="471.0,430.8 482.0,430.1 482.0,441.7 472.0,442.0" fill="#800000"/>
<polygon points="409.1,448.5 419.7,446.0 421.0,452.9 410.8,456.0" fill="#000080"/>
<polygon points="392.3,462.8 401.7,459.1 404.2,464.7 394.8,468.4" fill="#800000"/>
<polygon points="386.1,473.4 395.4,469.1 397.9,474.7 389.2,479.0" fill="#800000"/>
<polygon points="444.0,456.0 452.7,454.1 454.0,460.3 445.2,462.0" fill="#000080"/>
<polygon points="473.0,463.2 482.0,463.2 482.0,469.1 473.3,469.1" fill="#000080"/>
<polygon points="480.0,398.1 481.9,398.1 482.5,409.3 493.7,409.3 493.1,419.9 515.5,422.4 515.5,432.3 524.8,434.8 524.2,440.4 533.5,441.7 534.2,437.9 544.8,440.4 545.8,436.7 556.0,438.3 557.8,434.2 569.0,438.5 589.0,449.8 581.5,462.8 589.6,467.8 592.7,464.1 600.8,470.9 597.7,475.9 480.0,475.9" fill="#cccccc"/>
<polygon points="549.7,385.0 564.7,385.0 563.4,390.6 549.1,386.9" fill="#cccccc"/>
<polygon points="600.8,451.0 610.8,457.2 607.6,462.8 597.1,456.0" fill="#cccccc"/>
<polygon points="480.0,474.9 598.3,474.9 606.0,481.1 602.7,485.8 599.6,489.8 589.6,484.8 587.1,488.3 582.1,485.5 574.6,492.3 571.5,496.0 563.4,491.7 560.3,496.0 552.2,489.8 549.7,485.5 544.8,493.8 537.9,489.8 539.5,479.6 535.4,479.6 525.5,476.4 516.1,479.2 515.5,483.6 480.0,479.9" fill="#cccccc"/>
<polygon points="557.8,484.2 564.7,486.7 562.8,489.8 556.6,487.9" fill="#808080"/>
<polygon points="547.2,477.4 557.8,481.1 556.0,486.7 546.6,483.6" fill="#000080"/>
<polygon points="566.6,483.0 569.7,480.5 585.2,492.3 580.9,497.3" fill="#000080"/>
<polygon points="597.1,474.2 606.0,481.1 602.7,486.1 593.6,479.2" fill="#000080"/>
<polygon points="605.2,510.4 609.5,506.6 617.0,514.1 612.6,517.8" fill="#c0e8ff"/>
<polygon points="601.4,514.1 605.2,511.0 612.0,518.5 607.6,522.2" fill="#000080"/>
<polygon points="565.9,446.6 574.6,449.8 569.0,461.0 562.2,457.2" fill="#808080"/>
<polygon points="503.0,432.9 513.0,433.8 512.6,437.9 503.0,437.1" fill="#808080"/>
<polygon points="536.7,427.1 549.1,430.5 547.9,436.7 535.8,433.6" fill="#800000"/>
<polygon points="544.8,441.7 556.0,444.8 554.1,451.0 543.8,447.3" fill="#000080"/>
<polygon points="557.2,441.3 566.2,443.8 564.4,448.8 556.0,446.3" fill="#800000"/>
<polygon points="522.3,446.0 532.9,447.9 531.7,454.1 521.7,452.2" fill="#000080"/>
<polygon points="549.1,460.0 556.0,461.6 554.5,467.8 547.9,465.9" fill="#800000"/>
<polygon points="565.9,462.2 576.9,467.2 574.0,472.8 564.7,467.8" fill="#800000"/>
<polygon points="508.0,470.3 517.1,471.6 516.7,477.8 508.0,477.2" fill="#000080"/>
<polygon points="578.4,385.6 592.1,390.6 588.3,401.2 574.9,395.0" fill="#000080"/>
<polygon points="589.8,396.2 601.0,400.6 602.2,396.2 628.4,410.5 622.2,419.9 588.5,401.8" fill="#000080"/>
<polygon points="622.2,388.7 636.5,396.8 634.6,402.4 619.9,393.7" fill="#0010a0"/>
<polygon points="631.5,403.1 645.8,410.5 643.3,415.1 629.6,407.4" fill="#0010a0"/>
<polygon points="604.7,303.1 624.0,310.6 622.8,315.9 603.5,308.7" fill="#000080"/>
<polygon points="590.4,309.3 602.2,313.7 601.0,319.3 588.5,315.5" fill="#a00000"/>
<polygon points="602.2,313.7 619.9,320.5 618.4,326.1 601.0,319.3" fill="#a00000"/>
<polygon points="587.9,315.5 599.7,319.9 599.1,323.0 587.3,319.3" fill="#000088"/>
<polygon points="599.7,320.5 606.2,323.0 605.3,325.9 599.5,323.4" fill="#000088"/>
<polygon points="586.0,319.3 598.5,323.6 597.2,329.6 584.8,325.5" fill="#800000"/>
<polygon points="598.5,324.3 604.7,326.1 602.9,331.7 597.9,330.1" fill="#800000"/>
<polygon points="549.3,319.9 568.0,324.3 566.7,330.7 548.7,326.1" fill="#800000"/>
<polygon points="582.3,329.9 594.8,334.2 593.5,339.8 580.8,335.5" fill="#0018a0"/>
<polygon points="595.0,334.2 611.9,340.5 610.3,346.1 593.8,339.8" fill="#0018a0"/>
<polygon points="563.4,334.9 580.4,340.1 579.2,345.4 561.8,340.5" fill="#800000"/>
<polygon points="580.4,340.1 591.0,342.9 589.8,349.8 579.2,346.1" fill="#e84800"/>
<polygon points="591.6,343.8 596.0,345.4 594.8,351.0 590.4,349.8" fill="#e84800"/>
<polygon points="561.8,340.7 579.2,345.8 589.2,349.8 587.9,354.8 560.5,346.3" fill="#800000"/>
<polygon points="589.8,350.4 594.1,351.7 592.9,356.0 588.5,354.8" fill="#800000"/>
<polygon points="559.9,346.3 576.7,351.7 576.1,353.8 559.3,349.8" fill="#d8d8d8"/>
<polygon points="558.9,350.0 576.1,354.2 584.8,364.1 582.9,370.3 555.5,361.0" fill="#800000"/>
<polygon points="574.2,355.4 584.8,358.5 584.2,363.5 573.6,359.8" fill="#cccccc"/>
<polygon points="585.4,359.1 589.8,359.8 589.2,364.7 584.8,364.1" fill="#e8e8e8"/>
<polygon points="583.5,364.7 587.9,365.4 586.7,371.0 582.3,370.3" fill="#800000"/>
<polygon points="589.5,361.0 601.0,365.4 599.7,371.0 587.9,366.6" fill="#000080"/>
<polygon points="568.0,369.7 579.8,374.1 578.6,380.3 566.7,375.9" fill="#000080"/>
<polygon points="579.8,374.7 584.2,375.3 582.9,380.9 579.2,380.3" fill="#000080"/>
<polygon points="549.9,380.9 564.9,384.7 563.6,390.9 548.7,386.5" fill="#cccccc"/>
<polygon points="577.3,385.3 592.3,390.9 591.0,396.0 574.8,396.0" fill="#000080"/>
<polygon points="625.9,347.9 642.1,354.8 640.8,358.5 624.0,352.3" fill="#0078f0"/>
<polygon points="623.4,352.9 640.6,359.1 637.7,367.0 621.9,357.9" fill="#0058d8"/>
<polygon points="643.9,351.0 660.1,359.8 658.3,366.0 642.1,356.6" fill="#0078f0"/>
<polygon points="630.2,374.7 646.1,382.8 643.6,389.0 628.1,380.3" fill="#0048c8"/>
<polygon points="621.5,389.0 634.6,394.6 633.4,396.0 619.7,396.0" fill="#000080"/>
<polygon points="452.0,367.2 467.6,366.0 468.0,372.6 453.0,373.8" fill="#cccccc"/>
<polygon points="613.1,453.0 629.9,431.8 650.8,448.9 647.1,453.9 657.0,462.3 653.5,467.1 649.2,469.8 639.2,461.7 637.4,463.8 634.2,464.2 626.8,458.0 623.7,461.7" fill="#cccccc"/>
<polygon points="628.0,472.9 634.9,465.5 644.8,473.5 641.7,477.9 649.2,484.8 656.0,496.0 647.9,502.8 632.4,484.8 635.5,481.0" fill="#cccccc"/>
<polygon points="636.7,443.9 647.1,452.6 643.0,456.7 633.0,448.9" fill="#800000"/>
<polygon points="643.0,457.4 652.9,465.5 649.2,469.8 639.2,461.7" fill="#800000"/>
<polygon points="660.5,492.4 686.1,471.9 696.0,483.7 704.8,497.4 709.1,506.7 699.8,513.0 705.4,525.4 696.0,528.5 690.4,517.9 685.5,519.8 679.9,509.2 670.5,515.5 663.7,506.1" fill="#cccccc"/>
<polygon points="676.7,538.5 685.5,532.3 691.1,531.6 696.0,528.5 701.0,541.0 705.4,552.8 702.3,555.9 694.8,544.7 681.1,550.3" fill="#cccccc"/>
<polygon points="711.1,536.8 743.3,524.8 747.0,538.5 753.9,537.8 761.5,567.4 745.9,573.0 731.0,576.1 732.2,589.2 727.9,590.4 729.1,603.5 689.9,607.8 688.0,596.6 692.4,595.4 691.8,584.2 711.7,579.2 706.1,554.9 714.8,550.5" fill="#cccccc"/>
<polygon points="706.1,594.1 709.8,594.1 711.1,605.3 707.1,605.7" fill="#808080"/>
<polygon points="736.0,558.0 741.6,556.8 745.9,572.3 739.7,574.2" fill="#800000"/>
<polygon points="721.0,590.4 727.2,589.8 729.1,603.5 722.3,604.1" fill="#800000"/>
<polygon points="648.1,486.2 652.5,483.1 659.9,492.4 656.2,496.2" fill="#800000"/>
<polygon points="652.5,482.5 656.8,479.0 664.9,488.1 660.5,491.8" fill="#ffe4c8"/>
<polygon points="656.8,478.7 661.2,475.0 668.9,484.3 664.9,488.1" fill="#000080"/>
<polygon points="673.0,482.5 678.0,479.0 692.9,499.9 687.9,503.9" fill="#800000"/>
<polygon points="692.9,500.5 697.9,498.0 704.8,509.9 699.8,513.0" fill="#0018a0"/>
<polygon points="699.8,513.0 704.8,510.5 711.0,522.3 705.4,525.4" fill="#800000"/>
<polygon points="704.8,509.9 708.5,508.0 715.3,521.1 711.6,522.9" fill="#c0e8ff"/>
<polygon points="709.1,507.4 714.7,504.9 721.2,517.3 716.0,520.4" fill="#800000"/>
<polygon points="669.9,516.1 679.9,509.2 685.5,519.8 676.1,526.7" fill="#000080"/>
<polygon points="685.5,520.4 690.4,517.9 696.0,527.9 691.1,531.6" fill="#800000"/>
<polygon points="696.0,528.5 701.0,527.3 706.6,539.1 701.0,541.0" fill="#800000"/>
<polygon points="701.0,541.0 706.6,539.1 711.6,550.9 705.4,552.8" fill="#000080"/>
<polygon points="731.5,529.2 737.1,527.0 742.1,540.4 736.5,542.9" fill="#000080"/>
<polygon points="716.0,485.6 721.6,483.7 729.0,498.0 723.4,500.9" fill="#a80000"/>
<polygon points="759.1,326.8 763.5,322.5 779.4,338.7 775.3,343.7" fill="#0098ff"/>
<polygon points="779.4,338.7 783.4,334.9 800.2,351.8 795.6,356.1" fill="#0090f8"/>
<polygon points="737.1,352.6 744.8,343.9 759.7,358.6 752.3,366.7" fill="#c8ecff"/>
<polygon points="763.5,355.5 767.8,351.1 783.2,367.1 778.7,371.7" fill="#30a8ff"/>
<polygon points="759.7,359.6 763.5,356.1 778.7,371.7 775.3,374.8" fill="#a0d8ff"/>
<polygon points="755.8,363.0 759.7,359.6 775.3,374.8 770.9,378.5" fill="#0088f0"/>
<polygon points="752.0,367.1 755.8,363.3 770.9,378.5 767.2,382.9" fill="#68c0ff"/>
<polygon points="726.1,364.6 733.6,356.1 763.5,386.0 759.1,390.4 744.2,376.0 741.1,378.8" fill="#c8ecff"/>
<polygon points="722.1,369.2 726.1,364.8 741.1,378.8 737.1,383.3" fill="#a0d8ff"/>
<polygon points="715.5,376.0 719.3,372.6 734.2,386.6 729.9,391.0" fill="#0088f0"/>
<polygon points="711.8,381.0 715.5,376.7 729.9,391.0 725.5,395.3" fill="#0070e0"/>
<polygon points="770.9,378.5 775.3,374.2 788.4,389.1 783.4,393.5" fill="#0028a8"/>
<polygon points="783.4,393.5 788.4,389.7 802.1,407.8 797.1,412.2" fill="#0038b8"/>
<polygon points="800.8,380.4 805.8,376.7 820.1,394.7 815.2,399.1" fill="#0038b8"/>
<polygon points="737.9,408.0 750.4,395.9 763.2,411.1 750.4,423.0" fill="#001090"/>
<polygon points="705.9,413.0 709.9,408.9 722.4,422.3 716.8,426.1" fill="#800000"/>
<polygon points="709.9,408.9 713.7,404.9 726.1,418.0 722.4,422.3" fill="#cccccc"/>
<polygon points="463.0,574.3 466.1,573.0 468.3,577.5 471.9,578.3 472.8,582.8 477.7,581.9 478.6,587.7 482.6,588.3 483.3,594.4 486.3,593.9 486.9,606.4 484.4,606.8 480.8,609.5 481.2,612.6 476.8,613.9 474.1,611.3 469.2,596.6 472.3,595.2 471.9,591.2 468.3,590.8 467.0,585.5 468.3,581.5 464.8,578.3" fill="#cccccc"/>
<polygon points="467.0,585.5 469.2,583.9 471.5,584.6 471.9,590.8 468.3,590.8" fill="#c8ecff"/>
<polygon points="472.8,594.8 475.9,594.2 476.8,600.6 475.0,601.9" fill="#800000"/>
<polygon points="478.0,594.4 479.9,594.2 480.1,600.1 478.6,600.4" fill="#800000"/>
<polygon points="475.0,601.9 477.7,599.9 479.9,602.4 479.9,606.8 476.8,606.8" fill="#000080"/>
<polygon points="481.0,599.3 483.9,598.8 484.2,606.8 481.7,606.8" fill="#800000"/>
<polygon points="484.4,610.4 489.3,607.3 492.4,607.7 493.7,613.5 490.6,614.8 487.9,613.5 485.7,612.2" fill="#cccccc"/>
<polygon points="495.5,597.5 498.1,597.0 497.3,600.6 496.4,601.5 495.5,604.1 494.1,603.3 494.6,600.1" fill="#800000"/>
<polygon points="495.0,608.6 499.0,604.6 503.5,608.6 497.7,611.7" fill="#cccccc"/>
<polygon points="494.1,613.5 503.5,608.6 504.4,610.8 494.6,617.9" fill="#000080"/>
<polygon points="490.6,615.3 493.3,614.8 493.7,618.8 491.9,618.4" fill="#000080"/>
<polygon points="494.6,619.7 504.8,616.2 507.5,613.5 515.5,609.5 519.1,611.3 519.9,615.7 515.5,617.5 504.8,618.4 495.5,621.9" fill="#cccccc"/>
<polygon points="508.8,608.1 523.5,598.6 526.2,599.3 528.8,606.4 519.9,610.8 515.5,609.0 510.2,611.3" fill="#000080"/>
<polygon points="524.4,597.5 528.0,595.7 530.6,600.6 533.3,602.4 542.6,598.8 544.9,603.3 535.1,607.7 532.4,606.4 528.8,606.4 526.2,599.3" fill="#cccccc"/>
<polygon points="530.2,597.5 535.5,594.8 536.9,599.3 533.3,601.9 530.6,600.6" fill="#000080"/>
<polygon points="526.3,552.5 531.3,551.3 533.8,558.8 528.8,560.0" fill="#000080"/>
<polygon points="537.5,556.3 543.8,550.0 550.0,555.0 542.0,562.5" fill="#000080"/>
<polygon points="679.2,525.0 685.4,519.6 697.0,537.4 683.6,534.0 681.0,530.3" fill="#cccccc"/>
<polygon points="961.0,551.2 968.1,550.0 971.8,578.0 965.1,578.8" fill="#800000"/>
<polygon points="968.1,550.0 972.5,549.4 977.2,577.6 971.8,578.0" fill="#d0d0d0"/>
<polygon points="972.5,549.1 979.8,548.2 984.1,576.7 977.2,577.6" fill="#000080"/>
</g>
<path d="M127.9,175.1 L136.1,169.3 L144.5,163.7 L153.0,158.2 L161.5,152.8 L170.1,147.6 L178.8,142.6 L187.6,137.7 L196.5,132.9 L205.5,128.3 L214.5,123.9 L223.6,119.6 L232.8,115.5 L242.1,111.5 L251.4,107.7 L260.8,104.0 L270.2,100.5 L279.8,97.2 L289.3,94.0 L298.9,91.0 L308.6,88.1 L318.3,85.4 L328.1,82.9 L337.9,80.6 L347.7,78.4 L357.6,76.3 L367.5,74.5 L377.4,72.8 L387.4,71.3 L397.3,69.9 L407.3,68.8 L417.4,67.8 L427.4,66.9 L437.5,66.3 L447.5,65.8 L457.6,65.5 L467.7,65.3 L477.7,65.3 L487.8,65.5 L497.9,65.9 L508.0,66.4 L518.0,67.1 L528.0,68.0 L538.1,69.1 L548.1,70.3 L558.0,71.7 L568.0,73.2 L577.9,75.0 L587.8,76.9 L597.7,78.9 L607.5,81.1 L617.3,83.5 L627.0,86.1 L636.7,88.8 L646.4,91.7 L656.0,94.8 L665.5,98.0 L675.0,101.4 L684.4,104.9 L693.8,108.6 L703.1,112.5 L712.4,116.5 L721.5,120.7 L730.6,125.0 L739.6,129.5 L748.6,134.2 L757.5,139.0 L766.2,143.9 L774.9,149.0 L783.5,154.2 L792.1,159.6 L800.5,165.1 L808.8,170.8 L817.0,176.6 L825.2,182.6 L833.2,188.6 L841.1,194.9 L848.9,201.2 L856.7,207.7 L864.2,214.3 L871.7,221.1 L879.1,227.9 L886.3,234.9 L893.5,242.1 L900.5,249.3 L907.4,256.7 L914.1,264.1 L920.8,271.7 L927.3,279.4 L933.6,287.2 L939.9,295.1 L945.9,303.2 L951.9,311.3 L957.7,319.5 L963.4,327.8 L968.9,336.3 L974.3,344.8 L979.6,353.4 L984.7,362.0 L989.6,370.8 L994.4,379.7 L999.1,388.6 L1003.6,397.6 L1007.9,406.7 L1012.1,415.9 L1016.2,425.1 L1020.0,434.4 L1023.8,443.8 L1027.3,453.2 L1030.7,462.7 L1033.9,472.2 L1037.0,481.8 L1039.9,491.5 L1042.7,501.2 L1045.2,510.9 L1047.7,520.7 L1049.9,530.5 L1052.0,540.4 L1053.9,550.3 L1055.6,560.2 L1057.2,570.1 L495.7,628.7 L494.9,622 L493.0,616.5 L489.5,613.0 L484.5,612.2 L480,612.8 L476.4,614.6 L472.4,618.6 Z" fill="none" stroke="#5c5c5c" stroke-width="0.85"/>
<path d="M483.5,610.8 C487.8,602.2 489.2,600.3 496.5,585.0 C503.8,569.7 499.7,579.7 505.5,565.0 C511.3,550.3 503.3,567.3 514.0,541.0 C524.7,514.7 523.5,519.7 537.5,486.0 C551.5,452.3 542.7,473.7 556.0,440.0 C569.3,406.3 559.8,433.3 577.3,385.0 C594.8,336.7 588.4,355.7 608.5,295.0 C628.6,234.3 618.7,268.0 637.5,202.8 C656.3,137.6 655.8,133.8 665.0,99.3" fill="none" stroke="#5c5c5c" stroke-width="0.85"/>
<path d="M493.4,617.5 C497.1,606.7 498.0,602.5 504.5,585.0 C511.0,567.5 506.3,579.7 513.0,565.0 C519.7,550.3 512.2,567.3 524.5,541.0 C536.8,514.7 534.9,519.7 550.0,486.0 C565.1,452.3 554.4,473.7 569.7,440.0 C585.0,406.3 572.7,433.3 596.0,385.0 C619.3,336.7 608.3,355.7 639.6,295.0 C670.9,234.3 658.2,258.5 690.0,202.8 C721.8,147.1 720.0,152.9 735.0,128.0" fill="none" stroke="#5c5c5c" stroke-width="0.85"/>
<circle cx="483" cy="623.7" r="3.1" fill="#686868"/>
<text x="5.5" y="15.6" font-size="18.6" textLength="166.0" lengthAdjust="spacingAndGlyphs">November, 20.2022</text>
<text x="5.5" y="31.8" font-size="18.6" textLength="99.5" lengthAdjust="spacingAndGlyphs">0213:00 UT</text>
<text x="1013.0" y="19.7" font-size="18.0" textLength="106.5" lengthAdjust="spacingAndGlyphs">Velocity (m/s)</text>
<defs><linearGradient id="g0" x1="0" y1="0" x2="0" y2="1"><stop offset="0" stop-color="#cdeaff"/><stop offset="1" stop-color="#55b6ff"/></linearGradient><linearGradient id="g1" x1="0" y1="0" x2="0" y2="1"><stop offset="0" stop-color="#35a8ff"/><stop offset="1" stop-color="#0088ff"/></linearGradient><linearGradient id="g2" x1="0" y1="0" x2="0" y2="1"><stop offset="0" stop-color="#0084f4"/><stop offset="1" stop-color="#0058d0"/></linearGradient><linearGradient id="g3" x1="0" y1="0" x2="0" y2="1"><stop offset="0" stop-color="#0048c0"/><stop offset="1" stop-color="#002098"/></linearGradient><linearGradient id="g4" x1="0" y1="0" x2="0" y2="1"><stop offset="0" stop-color="#001890"/><stop offset="1" stop-color="#000078"/></linearGradient><linearGradient id="g5" x1="0" y1="0" x2="0" y2="1"><stop offset="0" stop-color="#780000"/><stop offset="1" stop-color="#980000"/></linearGradient><linearGradient id="g6" x1="0" y1="0" x2="0" y2="1"><stop offset="0" stop-color="#a00000"/><stop offset="1" stop-color="#c82800"/></linearGradient><linearGradient id="g7" x1="0" y1="0" x2="0" y2="1"><stop offset="0" stop-color="#d43800"/><stop offset="1" stop-color="#f86800"/></linearGradient><linearGradient id="g8" x1="0" y1="0" x2="0" y2="1"><stop offset="0" stop-color="#ff7c00"/><stop offset="1" stop-color="#ffa030"/></linearGradient><linearGradient id="g9" x1="0" y1="0" x2="0" y2="1"><stop offset="0" stop-color="#ffb458"/><stop offset="1" stop-color="#ffecd8"/></linearGradient></defs>
<rect x="1057.5" y="44.30" width="17.3" height="27.11" fill="url(#g0)"/>
<rect x="1057.5" y="71.41" width="17.3" height="27.11" fill="url(#g1)"/>
<rect x="1057.5" y="98.52" width="17.3" height="27.11" fill="url(#g2)"/>
<rect x="1057.5" y="125.63" width="17.3" height="27.11" fill="url(#g3)"/>
<rect x="1057.5" y="152.74" width="17.3" height="27.11" fill="url(#g4)"/>
<rect x="1057.5" y="179.85" width="17.3" height="27.11" fill="url(#g5)"/>
<rect x="1057.5" y="206.96" width="17.3" height="27.11" fill="url(#g6)"/>
<rect x="1057.5" y="234.07" width="17.3" height="27.11" fill="url(#g7)"/>
<rect x="1057.5" y="261.18" width="17.3" height="27.11" fill="url(#g8)"/>
<rect x="1057.5" y="288.29" width="17.3" height="27.11" fill="url(#g9)"/>
<rect x="1057.5" y="176.95" width="17.3" height="2.90" fill="#d8d8d8"/>
<rect x="1057.5" y="179.85" width="17.3" height="2.90" fill="#ffffff"/>
<line x1="1057.5" y1="71.41" x2="1074.8" y2="71.41" stroke="#000" stroke-width="1"/>
<line x1="1057.5" y1="98.52" x2="1074.8" y2="98.52" stroke="#000" stroke-width="1"/>
<line x1="1057.5" y1="125.63" x2="1074.8" y2="125.63" stroke="#000" stroke-width="1"/>
<line x1="1057.5" y1="152.74" x2="1074.8" y2="152.74" stroke="#000" stroke-width="1"/>
<line x1="1057.5" y1="179.85" x2="1074.8" y2="179.85" stroke="#000" stroke-width="1"/>
<line x1="1057.5" y1="206.96" x2="1074.8" y2="206.96" stroke="#000" stroke-width="1"/>
<line x1="1057.5" y1="234.07" x2="1074.8" y2="234.07" stroke="#000" stroke-width="1"/>
<line x1="1057.5" y1="261.18" x2="1074.8" y2="261.18" stroke="#000" stroke-width="1"/>
<line x1="1057.5" y1="288.29" x2="1074.8" y2="288.29" stroke="#000" stroke-width="1"/>
<rect x="1057.5" y="44.30" width="17.3" height="271.10" fill="none" stroke="#000" stroke-width="1.2"/>
<text x="1049.9" y="44.6" font-size="13.4" text-anchor="end" letter-spacing="0.6">500</text>
<text x="1049.9" y="71.7" font-size="13.4" text-anchor="end" letter-spacing="0.6">400</text>
<text x="1049.9" y="98.8" font-size="13.4" text-anchor="end" letter-spacing="0.6">300</text>
<text x="1049.9" y="125.9" font-size="13.4" text-anchor="end" letter-spacing="0.6">200</text>
<text x="1049.9" y="153.0" font-size="13.4" text-anchor="end" letter-spacing="0.6">100</text>
<text x="1049.9" y="180.2" font-size="13.4" text-anchor="end" letter-spacing="0.6">0</text>
<text x="1049.9" y="207.3" font-size="13.4" text-anchor="end" letter-spacing="0.6">-100</text>
<text x="1049.9" y="234.4" font-size="13.4" text-anchor="end" letter-spacing="0.6">-200</text>
<text x="1049.9" y="261.5" font-size="13.4" text-anchor="end" letter-spacing="0.6">-300</text>
<text x="1049.9" y="288.6" font-size="13.4" text-anchor="end" letter-spacing="0.6">-400</text>
<text x="1049.9" y="315.7" font-size="13.4" text-anchor="end" letter-spacing="0.6">-500</text>
<text x="1083.0" y="56.7" font-size="13.4" letter-spacing="0.6">toward</text>
<text x="1083.6" y="314.8" font-size="13.4" letter-spacing="0.2">away</text>
<text x="1084.0" y="176.3" font-size="13.4" letter-spacing="0.6">10</text>
<text x="1084.0" y="193.4" font-size="13.4" letter-spacing="0.6">-10</text>
<text x="111.3" y="564.5" font-size="18.0" textLength="88.0" lengthAdjust="spacingAndGlyphs">Frequency</text>
<text x="114.0" y="582.5" font-size="18.0" textLength="30.8" lengthAdjust="spacingAndGlyphs">cvw</text>
<text x="168.3" y="582.5" font-size="18.0" textLength="26.0" lengthAdjust="spacingAndGlyphs">cve</text>
<rect x="120.5" y="589.5" width="17.0" height="170.0" fill="none" stroke="#000" stroke-width="1"/>
<line x1="120.5" y1="606.5" x2="137.5" y2="606.5" stroke="#000" stroke-width="1"/>
<line x1="120.5" y1="623.5" x2="137.5" y2="623.5" stroke="#000" stroke-width="1"/>
<line x1="120.5" y1="640.5" x2="137.5" y2="640.5" stroke="#000" stroke-width="1"/>
<line x1="120.5" y1="657.5" x2="137.5" y2="657.5" stroke="#000" stroke-width="1"/>
<line x1="120.5" y1="674.5" x2="137.5" y2="674.5" stroke="#000" stroke-width="1"/>
<line x1="120.5" y1="691.5" x2="137.5" y2="691.5" stroke="#000" stroke-width="1"/>
<line x1="120.5" y1="708.5" x2="137.5" y2="708.5" stroke="#000" stroke-width="1"/>
<line x1="120.5" y1="725.5" x2="137.5" y2="725.5" stroke="#000" stroke-width="1"/>
<line x1="120.5" y1="742.5" x2="137.5" y2="742.5" stroke="#000" stroke-width="1"/>
<rect x="172.5" y="589.5" width="17.0" height="170.0" fill="none" stroke="#000" stroke-width="1"/>
<line x1="172.5" y1="606.5" x2="189.5" y2="606.5" stroke="#000" stroke-width="1"/>
<line x1="172.5" y1="623.5" x2="189.5" y2="623.5" stroke="#000" stroke-width="1"/>
<line x1="172.5" y1="640.5" x2="189.5" y2="640.5" stroke="#000" stroke-width="1"/>
<line x1="172.5" y1="657.5" x2="189.5" y2="657.5" stroke="#000" stroke-width="1"/>
<line x1="172.5" y1="674.5" x2="189.5" y2="674.5" stroke="#000" stroke-width="1"/>
<line x1="172.5" y1="691.5" x2="189.5" y2="691.5" stroke="#000" stroke-width="1"/>
<line x1="172.5" y1="708.5" x2="189.5" y2="708.5" stroke="#000" stroke-width="1"/>
<line x1="172.5" y1="725.5" x2="189.5" y2="725.5" stroke="#000" stroke-width="1"/>
<line x1="172.5" y1="742.5" x2="189.5" y2="742.5" stroke="#000" stroke-width="1"/>
<text x="112.5" y="596.9" font-size="13.5" text-anchor="end" letter-spacing="0.3">18</text>
<text x="198.8" y="596.9" font-size="13.5" letter-spacing="0.3">18</text>
<text x="112.5" y="613.9" font-size="13.5" text-anchor="end" letter-spacing="0.3">17</text>
<text x="198.8" y="613.9" font-size="13.5" letter-spacing="0.3">17</text>
<text x="112.5" y="630.9" font-size="13.5" text-anchor="end" letter-spacing="0.3">16</text>
<text x="198.8" y="630.9" font-size="13.5" letter-spacing="0.3">16</text>
<text x="112.5" y="647.9" font-size="13.5" text-anchor="end" letter-spacing="0.3">15</text>
<text x="198.8" y="647.9" font-size="13.5" letter-spacing="0.3">15</text>
<text x="112.5" y="664.9" font-size="13.5" text-anchor="end" letter-spacing="0.3">14</text>
<text x="198.8" y="664.9" font-size="13.5" letter-spacing="0.3">14</text>
<text x="112.5" y="681.9" font-size="13.5" text-anchor="end" letter-spacing="0.3">13</text>
<text x="198.8" y="681.9" font-size="13.5" letter-spacing="0.3">13</text>
<text x="112.5" y="698.9" font-size="13.5" text-anchor="end" letter-spacing="0.3">12</text>
<text x="198.8" y="698.9" font-size="13.5" letter-spacing="0.3">12</text>
<text x="112.5" y="715.9" font-size="13.5" text-anchor="end" letter-spacing="0.3">11</text>
<text x="198.8" y="715.9" font-size="13.5" letter-spacing="0.3">11</text>
<text x="112.5" y="732.9" font-size="13.5" text-anchor="end" letter-spacing="0.3">10</text>
<text x="198.8" y="732.9" font-size="13.5" letter-spacing="0.3">10</text>
<text x="112.5" y="749.9" font-size="13.5" text-anchor="end" letter-spacing="0.3">9</text>
<text x="198.8" y="749.9" font-size="13.5" letter-spacing="0.3">9</text>
<text x="112.5" y="766.9" font-size="13.5" text-anchor="end" letter-spacing="0.3">8</text>
<text x="198.8" y="766.9" font-size="13.5" letter-spacing="0.3">8</text>
<rect x="116.8" y="713.8" width="24" height="4.2" fill="#f04010"/>
<rect x="169.8" y="713.8" width="23" height="4.2" fill="#f04010"/>
<text x="451.0" y="646.5" font-size="13.0" textLength="24.0" lengthAdjust="spacingAndGlyphs">cvw</text>
<text x="491.0" y="646.5" font-size="13.0" textLength="21.5" lengthAdjust="spacingAndGlyphs">cve</text>
<rect x="1120" y="0" width="4" height="811" fill="#fff"/>
</svg>
</body></html>
